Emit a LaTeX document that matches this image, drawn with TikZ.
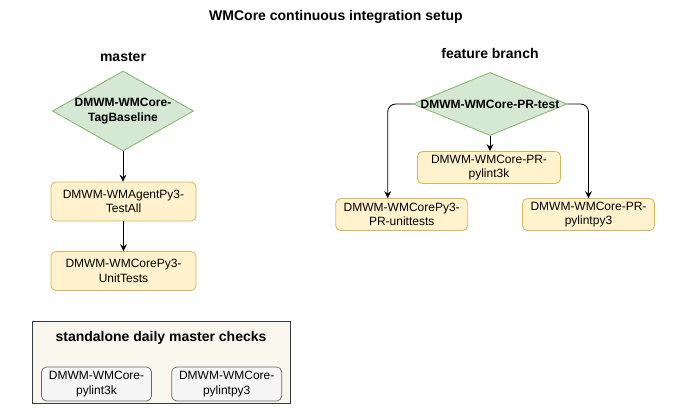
\documentclass[tikz,border=0pt]{standalone}
\usepackage{fontspec}
\setmainfont{Liberation Sans}
\usetikzlibrary{shapes.geometric,arrows.meta}
\definecolor{gfill}{HTML}{D5E8D4}
\definecolor{gdraw}{HTML}{82B366}
\definecolor{yfill}{HTML}{FFF2CC}
\definecolor{ydraw}{HTML}{D6B656}
\definecolor{sfill}{HTML}{F9F7ED}
\definecolor{sdraw}{HTML}{36393D}
\definecolor{bfill}{HTML}{F5F5F5}
\definecolor{bdraw}{HTML}{666666}
\tikzset{
  heading/.style={font=\fontsize{14}{16}\selectfont\bfseries, inner sep=0pt},
  dia/.style={diamond, draw=gdraw, fill=gfill, aspect=1.8, inner sep=0pt, line width=0.8pt},
  diatext/.style={font=\fontsize{12}{14.4}\selectfont\bfseries, align=center, inner sep=0pt},
  job/.style={rectangle, rounded corners=5pt, draw=ydraw, fill=yfill, line width=0.8pt, align=center,
    font=\fontsize{12}{14.4}\selectfont, inner sep=0pt},
  daily/.style={rectangle, rounded corners=5pt, draw=bdraw, fill=bfill, line width=0.7pt, align=center,
    font=\fontsize{12}{14.4}\selectfont, inner sep=0pt, minimum width=110pt, minimum height=34pt},
  arr/.style={-{Stealth[length=7pt,width=7pt,inset=2.5pt]}, line width=0.8pt, black},
}
\begin{document}
\begin{tikzpicture}[x=1pt,y=-1pt]
\useasboundingbox (0,0) rectangle (673,413);
% title
\node[heading] (title) at (336,17) {WMCore continuous integration setup};
% master column
\node[heading] (master) at (123,57) {master};
\node[dia, minimum width=141pt, minimum height=80pt] (tb) at (123,111) {};
\node[diatext] (tbl) at (tb.center) {DMWM-WMCore-\\TagBaseline};
\node[job, minimum width=145pt, minimum height=39pt] (ta) at (123.5,201.5) {DMWM-WMAgentPy3-\\TestAll};
\node[job, minimum width=145pt, minimum height=39pt] (ut) at (123.5,271) {DMWM-WMCorePy3-\\UnitTests};
\draw[arr] (tb.south) -- (tb.south |- ta.north);
\draw[arr] (ta.south) -- (ut.north);
% feature branch column
\node[heading] (fb) at (490,53) {feature branch};
\node[dia, minimum width=154pt, minimum height=63pt] (pr) at (490,104) {};
\node[diatext] (prl) at (pr.center) {DMWM-WMCore-PR-test};
\node[job, minimum width=143pt, minimum height=32pt] (p3k) at (489,167.5) {DMWM-WMCore-PR-\\pylint3k};
\node[job, minimum width=132pt, minimum height=32pt] (put) at (401.7,214.5) {DMWM-WMCorePy3-\\PR-unittests};
\node[job, minimum width=132pt, minimum height=32pt] (ppy) at (588.5,214.5) {DMWM-WMCore-PR-\\pylintpy3};
\coordinate (putin) at ([xshift=-14pt]put.north);
\draw[arr] (pr.south) -- (pr.south |- p3k.north);
\draw[arr, rounded corners=8pt] (pr.west) -| (putin);
\draw[arr, rounded corners=8pt] (pr.east) -| (ppy.north);
% standalone checks
\node[rectangle, draw=sdraw, fill=sfill, line width=0.8pt, minimum width=258pt, minimum height=82pt, inner sep=0pt] (sa) at (161,362) {};
\node[heading] (sat) at (161,338) {standalone daily master checks};
\node[daily] (d1) at (96.5,384) {DMWM-WMCore-\\pylint3k};
\node[daily] (d2) at (226.7,384) {DMWM-WMCore-\\pylintpy3};
\end{tikzpicture}
\end{document}
